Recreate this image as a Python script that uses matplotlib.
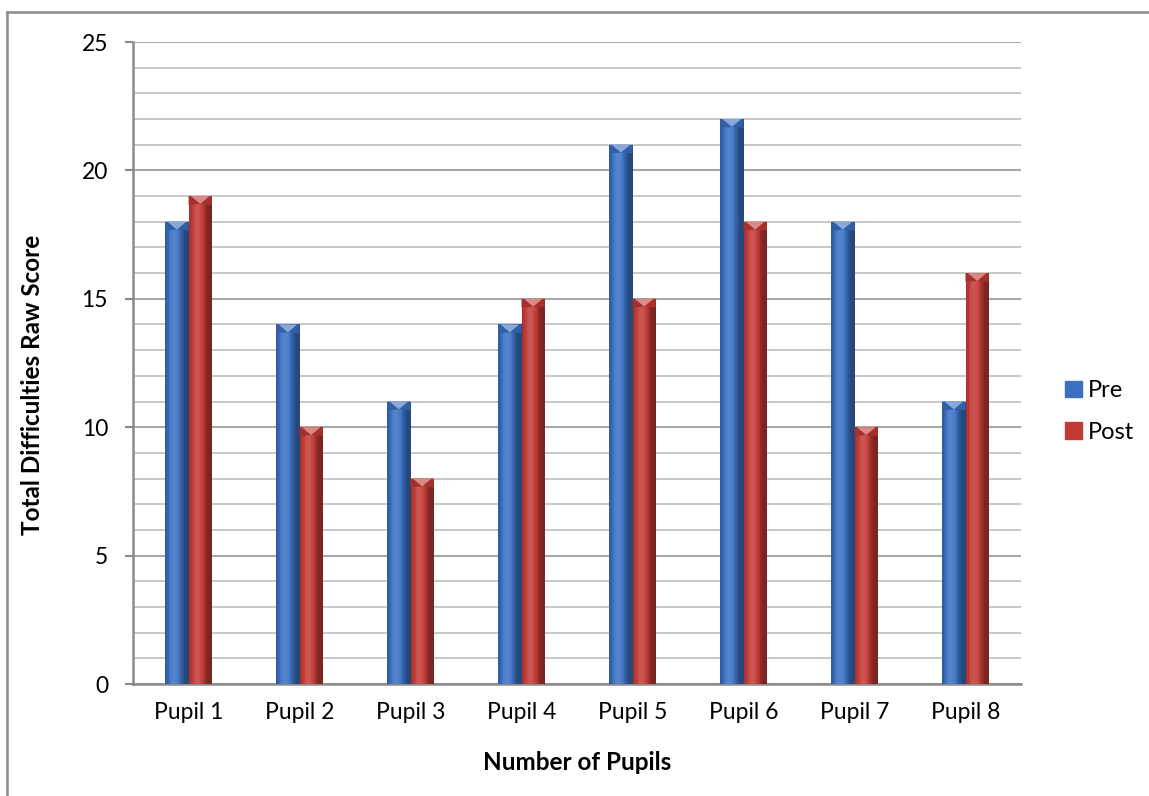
import numpy as np
import matplotlib.pyplot as plt
from matplotlib.lines import Line2D
from matplotlib.patches import Polygon
from matplotlib.colors import to_rgb

plt.rcParams['font.family'] = ['Lato', 'DejaVu Sans']

pupils = ["Pupil 1", "Pupil 2", "Pupil 3", "Pupil 4", "Pupil 5", "Pupil 6", "Pupil 7", "Pupil 8"]
pre = [18, 14, 11, 14, 21, 22, 18, 11]
post = [19, 10, 8, 15, 15, 18, 10, 16]

pre_color = "#3A70C2"
post_color = "#C23A35"


def shade(color, f):
    c = np.array(to_rgb(color))
    if f >= 1:
        return tuple(c + (1 - c) * (f - 1))
    return tuple(c * f)


def cylinder_bar(ax, x, h, w, color, n=14):
    # shade the bar in thin vertical slices to get a rounded look
    edges = np.linspace(x - w / 2, x + w / 2, n + 1)
    for i in range(n):
        t = (i + 0.5) / n
        f = 0.78 + 0.42 * np.sin(np.pi * min(t * 1.25, 1.0)) - 0.15 * t
        ax.bar(edges[i], h, width=edges[i + 1] - edges[i], align="edge",
               color=shade(color, f), linewidth=0, zorder=3)
    # bevelled cap at the top
    cap = 0.34
    ax.add_patch(Polygon([(x - w / 2, h), (x + w / 2, h), (x + w / 2, h - cap),
                          (x, h - cap * 0.9), (x - w / 2, h - cap)],
                         closed=True, color=shade(color, 0.85), lw=0, zorder=4))
    ax.add_patch(Polygon([(x - w / 2 + w * 0.1, h), (x + w / 2 - w * 0.1, h), (x, h - cap * 0.9)],
                         closed=True, color=shade(color, 1.4), lw=0, zorder=5))


fig = plt.figure(figsize=(11.49, 7.96), dpi=100)
ax = fig.add_axes([0.1158, 0.1407, 0.7728, 0.8065])

x = np.arange(len(pupils))
w = 0.21
for i in x:
    cylinder_bar(ax, i - w / 2, pre[i], w, pre_color)
    cylinder_bar(ax, i + w / 2, post[i], w, post_color)

ax.set_xlim(-0.5, len(pupils) - 0.5)
ax.set_ylim(0, 25)
ax.set_yticks(range(0, 26, 5))
ax.set_yticks(range(0, 26), minor=True)
ax.set_xticks(x)
ax.set_xticklabels(pupils)

ax.grid(True, which="minor", axis="y", color="#C4C4C4", lw=1.3, zorder=0)
ax.grid(True, which="major", axis="y", color="#A8A8A8", lw=1.5, zorder=1)

ax.tick_params(axis="y", which="major", length=6, width=1.5, color="#8A8A8A",
               labelsize=16.5, pad=12)
ax.tick_params(axis="y", which="minor", length=0)
ax.tick_params(axis="x", length=0, labelsize=16.5, pad=13)

for side in ["top", "right"]:
    ax.spines[side].set_visible(False)
for side in ["left", "bottom"]:
    ax.spines[side].set_color("#8A8A8A")
    ax.spines[side].set_linewidth(1.8)

ax.set_xlabel("Number of Pupils", fontsize=17.5, fontweight="bold", labelpad=20)
ax.set_ylabel("Total Difficulties Raw Score", fontsize=17.5, fontweight="bold",
              va="center", ha="center")
ax.yaxis.set_label_coords(-0.113, 0.466)

handles = [plt.Rectangle((0, 0), 1, 1, color=pre_color),
           plt.Rectangle((0, 0), 1, 1, color=post_color)]
fig.legend(handles, ["Pre", "Post"], loc="center left", bbox_to_anchor=(0.927, 0.483),
           frameon=False, fontsize=17, handlelength=0.7, handleheight=0.7,
           handletextpad=0.25, labelspacing=0.85, borderpad=0, borderaxespad=0)

# outer chart frame
fig.add_artist(Line2D([0.0065, 0.0065], [0, 0.985], color="#8A8A8A", lw=1.8))
fig.add_artist(Line2D([0.0065, 1.0], [0.985, 0.985], color="#8A8A8A", lw=1.8))

fig.savefig("out.png", dpi=100)
